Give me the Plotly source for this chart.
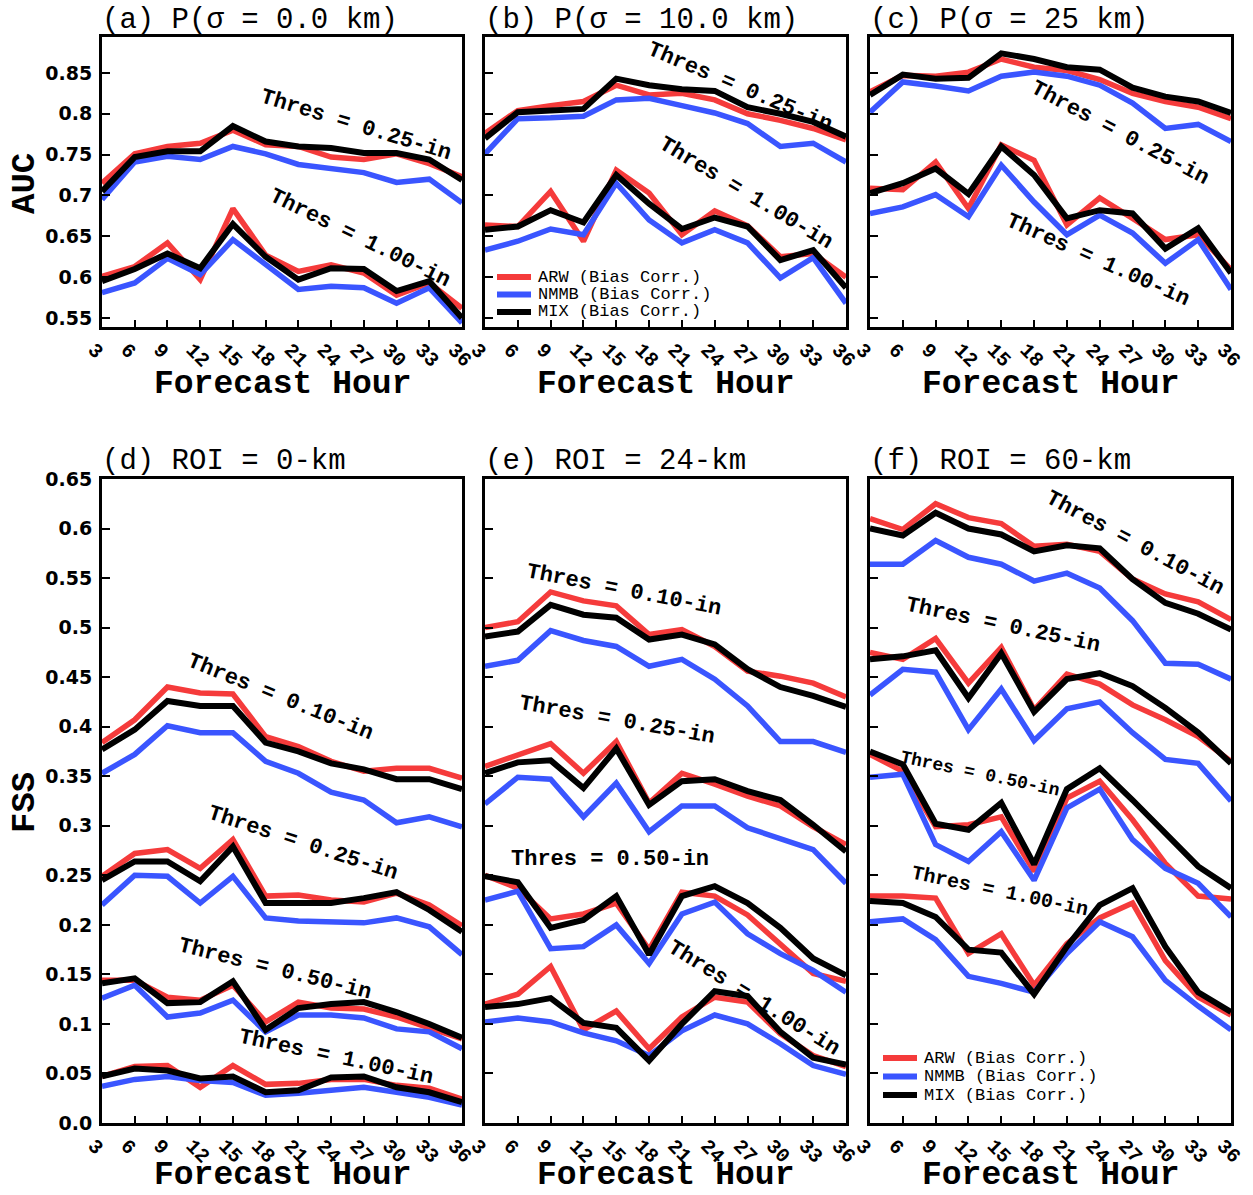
import plotly.graph_objects as go

W, H = 1253, 1195

hours = [3, 6, 9, 12, 15, 18, 21, 24, 27, 30, 33, 36]
hour_labels = [str(h) for h in hours]

auc_ticks = [0.55, 0.60, 0.65, 0.70, 0.75, 0.80, 0.85]
auc_ticklabels = ["0.55", "0.6", "0.65", "0.7", "0.75", "0.8", "0.85"]
fss_ticks = [0.0, 0.05, 0.1, 0.15, 0.2, 0.25, 0.3, 0.35, 0.4, 0.45, 0.5, 0.55, 0.6, 0.65]
fss_ticklabels = ["0.0", "0.05", "0.1", "0.15", "0.2", "0.25", "0.3", "0.35", "0.4", "0.45", "0.5", "0.55", "0.6", "0.65"]

# ---- (a) AUC, sigma = 0 km ----
a_t025_arw = [0.715, 0.751, 0.760, 0.764, 0.780, 0.762, 0.760, 0.747, 0.744, 0.751, 0.739, 0.723]
a_t025_nmmb = [0.695, 0.741, 0.748, 0.744, 0.760, 0.751, 0.738, 0.733, 0.728, 0.716, 0.720, 0.691]
a_t025_mix = [0.705, 0.747, 0.754, 0.754, 0.785, 0.766, 0.760, 0.758, 0.752, 0.752, 0.744, 0.719]
a_t100_arw = [0.601, 0.613, 0.642, 0.597, 0.684, 0.627, 0.607, 0.615, 0.605, 0.578, 0.593, 0.562]
a_t100_nmmb = [0.581, 0.593, 0.623, 0.603, 0.646, 0.615, 0.585, 0.589, 0.587, 0.568, 0.587, 0.544]
a_t100_mix = [0.595, 0.610, 0.629, 0.611, 0.665, 0.625, 0.597, 0.611, 0.610, 0.583, 0.595, 0.550]

# ---- (b) AUC, sigma = 10 km ----
b_t025_arw = [0.776, 0.804, 0.810, 0.815, 0.835, 0.823, 0.825, 0.817, 0.800, 0.792, 0.782, 0.768]
b_t025_nmmb = [0.751, 0.794, 0.795, 0.797, 0.817, 0.819, 0.810, 0.801, 0.788, 0.760, 0.764, 0.741]
b_t025_mix = [0.770, 0.802, 0.804, 0.806, 0.843, 0.835, 0.830, 0.828, 0.808, 0.800, 0.790, 0.772]
b_t100_arw = [0.664, 0.662, 0.705, 0.644, 0.731, 0.703, 0.652, 0.681, 0.663, 0.625, 0.629, 0.600]
b_t100_nmmb = [0.633, 0.644, 0.659, 0.652, 0.715, 0.670, 0.642, 0.658, 0.642, 0.599, 0.624, 0.568]
b_t100_mix = [0.658, 0.662, 0.682, 0.667, 0.725, 0.690, 0.659, 0.673, 0.662, 0.621, 0.633, 0.587]

# ---- (c) AUC, sigma = 25 km ----
c_t025_arw = [0.827, 0.847, 0.846, 0.851, 0.867, 0.857, 0.853, 0.842, 0.825, 0.815, 0.808, 0.794]
c_t025_nmmb = [0.802, 0.839, 0.834, 0.828, 0.846, 0.851, 0.846, 0.835, 0.813, 0.782, 0.787, 0.766]
c_t025_mix = [0.823, 0.848, 0.843, 0.844, 0.874, 0.867, 0.857, 0.854, 0.832, 0.821, 0.815, 0.801]
c_t100_arw = [0.709, 0.707, 0.741, 0.684, 0.762, 0.743, 0.664, 0.697, 0.672, 0.646, 0.652, 0.609]
c_t100_nmmb = [0.678, 0.686, 0.701, 0.674, 0.737, 0.692, 0.652, 0.676, 0.654, 0.617, 0.646, 0.585]
c_t100_mix = [0.703, 0.715, 0.733, 0.702, 0.760, 0.725, 0.672, 0.682, 0.678, 0.635, 0.660, 0.605]

# ---- (d) FSS, ROI = 0 km ----
d_t010_arw = [0.384, 0.407, 0.440, 0.434, 0.433, 0.390, 0.380, 0.365, 0.355, 0.358, 0.358, 0.348]
d_t010_nmmb = [0.353, 0.372, 0.401, 0.394, 0.394, 0.365, 0.353, 0.334, 0.326, 0.303, 0.309, 0.299]
d_t010_mix = [0.377, 0.397, 0.426, 0.421, 0.421, 0.384, 0.375, 0.363, 0.357, 0.347, 0.347, 0.337]
d_t025_arw = [0.249, 0.272, 0.276, 0.257, 0.286, 0.229, 0.230, 0.225, 0.223, 0.232, 0.220, 0.199]
d_t025_nmmb = [0.220, 0.250, 0.249, 0.222, 0.249, 0.207, 0.204, 0.203, 0.202, 0.207, 0.198, 0.170]
d_t025_mix = [0.245, 0.264, 0.264, 0.244, 0.279, 0.222, 0.222, 0.222, 0.227, 0.233, 0.215, 0.193]
d_t050_arw = [0.144, 0.144, 0.127, 0.124, 0.139, 0.102, 0.122, 0.116, 0.115, 0.107, 0.096, 0.085]
d_t050_nmmb = [0.126, 0.139, 0.107, 0.111, 0.124, 0.092, 0.109, 0.109, 0.106, 0.095, 0.092, 0.075]
d_t050_mix = [0.141, 0.146, 0.121, 0.122, 0.143, 0.094, 0.116, 0.120, 0.122, 0.112, 0.100, 0.086]
d_t100_arw = [0.047, 0.057, 0.058, 0.036, 0.058, 0.039, 0.040, 0.044, 0.044, 0.038, 0.035, 0.024]
d_t100_nmmb = [0.037, 0.044, 0.047, 0.043, 0.041, 0.028, 0.030, 0.033, 0.036, 0.031, 0.026, 0.018]
d_t100_mix = [0.047, 0.055, 0.053, 0.045, 0.047, 0.031, 0.033, 0.046, 0.047, 0.036, 0.031, 0.021]

# ---- (e) FSS, ROI = 24 km ----
e_t010_arw = [0.500, 0.506, 0.536, 0.527, 0.522, 0.493, 0.498, 0.481, 0.456, 0.451, 0.444, 0.430]
e_t010_nmmb = [0.461, 0.467, 0.497, 0.487, 0.481, 0.461, 0.468, 0.448, 0.421, 0.385, 0.385, 0.374]
e_t010_mix = [0.491, 0.496, 0.523, 0.513, 0.510, 0.488, 0.493, 0.483, 0.458, 0.440, 0.431, 0.420]
e_t025_arw = [0.360, 0.371, 0.383, 0.353, 0.385, 0.323, 0.353, 0.342, 0.330, 0.320, 0.299, 0.281]
e_t025_nmmb = [0.322, 0.349, 0.347, 0.309, 0.343, 0.294, 0.320, 0.320, 0.298, 0.287, 0.276, 0.242]
e_t025_mix = [0.353, 0.364, 0.366, 0.338, 0.378, 0.321, 0.345, 0.347, 0.335, 0.326, 0.301, 0.274]
e_t050_arw = [0.250, 0.237, 0.206, 0.211, 0.222, 0.175, 0.233, 0.229, 0.210, 0.181, 0.151, 0.143]
e_t050_nmmb = [0.225, 0.234, 0.176, 0.178, 0.200, 0.161, 0.211, 0.223, 0.191, 0.171, 0.154, 0.132]
e_t050_mix = [0.249, 0.243, 0.197, 0.205, 0.229, 0.170, 0.229, 0.239, 0.222, 0.197, 0.166, 0.149]
e_t100_arw = [0.120, 0.130, 0.158, 0.094, 0.113, 0.075, 0.107, 0.127, 0.122, 0.090, 0.068, 0.057]
e_t100_nmmb = [0.102, 0.106, 0.102, 0.091, 0.083, 0.068, 0.093, 0.109, 0.100, 0.080, 0.058, 0.049]
e_t100_mix = [0.117, 0.120, 0.126, 0.101, 0.096, 0.063, 0.100, 0.133, 0.128, 0.092, 0.066, 0.059]

# ---- (f) FSS, ROI = 60 km ----
f_t010_arw = [0.610, 0.599, 0.625, 0.611, 0.605, 0.582, 0.584, 0.577, 0.549, 0.534, 0.526, 0.508]
f_t010_nmmb = [0.564, 0.564, 0.588, 0.571, 0.564, 0.547, 0.555, 0.540, 0.507, 0.464, 0.463, 0.448]
f_t010_mix = [0.600, 0.593, 0.616, 0.600, 0.594, 0.577, 0.583, 0.580, 0.549, 0.525, 0.514, 0.498]
f_t025_arw = [0.475, 0.468, 0.489, 0.444, 0.480, 0.417, 0.453, 0.443, 0.422, 0.407, 0.390, 0.365]
f_t025_nmmb = [0.432, 0.458, 0.455, 0.397, 0.438, 0.386, 0.418, 0.425, 0.394, 0.367, 0.363, 0.325]
f_t025_mix = [0.468, 0.471, 0.477, 0.429, 0.474, 0.415, 0.448, 0.454, 0.441, 0.419, 0.394, 0.363]
f_t050_arw = [0.372, 0.355, 0.299, 0.301, 0.309, 0.254, 0.328, 0.345, 0.306, 0.262, 0.229, 0.226]
f_t050_nmmb = [0.349, 0.352, 0.281, 0.264, 0.294, 0.245, 0.318, 0.337, 0.286, 0.257, 0.242, 0.208]
f_t050_mix = [0.375, 0.362, 0.302, 0.296, 0.323, 0.261, 0.337, 0.358, 0.326, 0.293, 0.259, 0.237]
f_t100_arw = [0.229, 0.229, 0.227, 0.171, 0.191, 0.139, 0.181, 0.207, 0.222, 0.164, 0.127, 0.109]
f_t100_nmmb = [0.203, 0.206, 0.185, 0.148, 0.141, 0.132, 0.171, 0.203, 0.188, 0.144, 0.118, 0.094]
f_t100_mix = [0.224, 0.222, 0.208, 0.175, 0.172, 0.130, 0.178, 0.220, 0.237, 0.178, 0.132, 0.112]

model_names = ["ARW (Bias Corr.)", "NMMB (Bias Corr.)", "MIX (Bias Corr.)"]
model_colors = ["#f53b3b", "#3a55ff", "#000000"]
model_widths = [5.5, 5.5, 6]

panel_titles = ["(a) P(\u03c3 = 0.0 km)", "(b) P(\u03c3 = 10.0 km)", "(c) P(\u03c3 = 25 km)",
                "(d) ROI = 0-km", "(e) ROI = 24-km", "(f) ROI = 60-km"]

panel_series = [
    [(a_t025_arw, a_t025_nmmb, a_t025_mix), (a_t100_arw, a_t100_nmmb, a_t100_mix)],
    [(b_t025_arw, b_t025_nmmb, b_t025_mix), (b_t100_arw, b_t100_nmmb, b_t100_mix)],
    [(c_t025_arw, c_t025_nmmb, c_t025_mix), (c_t100_arw, c_t100_nmmb, c_t100_mix)],
    [(d_t010_arw, d_t010_nmmb, d_t010_mix), (d_t025_arw, d_t025_nmmb, d_t025_mix),
     (d_t050_arw, d_t050_nmmb, d_t050_mix), (d_t100_arw, d_t100_nmmb, d_t100_mix)],
    [(e_t010_arw, e_t010_nmmb, e_t010_mix), (e_t025_arw, e_t025_nmmb, e_t025_mix),
     (e_t050_arw, e_t050_nmmb, e_t050_mix), (e_t100_arw, e_t100_nmmb, e_t100_mix)],
    [(f_t010_arw, f_t010_nmmb, f_t010_mix), (f_t025_arw, f_t025_nmmb, f_t025_mix),
     (f_t050_arw, f_t050_nmmb, f_t050_mix), (f_t100_arw, f_t100_nmmb, f_t100_mix)],
]

# threshold labels: (text, center px x, center px y, angle, size)
thres_labels = [
    ("Thres = 0.25-in", 356, 125, 17, 22),
    ("Thres = 1.00-in", 360, 238, 26, 22),
    ("Thres = 0.25-in", 740, 87, 23, 22),
    ("Thres = 1.00-in", 746, 193, 31, 22),
    ("Thres = 0.25-in", 1120, 133, 28, 22),
    ("Thres = 1.00-in", 1098, 260, 24, 22),
    ("Thres = 0.10-in", 280, 698, 22, 22),
    ("Thres = 0.25-in", 303, 843, 18, 22),
    ("Thres = 0.50-in", 275, 969, 14, 22),
    ("Thres = 1.00-in", 336, 1057, 12, 22),
    ("Thres = 0.10-in", 624, 590, 11, 22),
    ("Thres = 0.25-in", 617, 720, 10, 22),
    ("Thres = 0.50-in", 610, 859, 0, 22),
    ("Thres = 1.00-in", 754, 998, 32, 22),
    ("Thres = 0.10-in", 1135, 543, 28, 22),
    ("Thres = 0.25-in", 1003, 625, 12, 22),
    ("Thres = 0.50-in", 980, 774, 12, 18),
    ("Thres = 1.00-in", 1000, 891, 12, 20),
]

# panel pixel boxes (left, right, top, bottom)
col_x = [(102, 462), (485, 846), (870, 1231)]
row_y = [(37, 327), (479, 1123)]
title_y = [21, 462]
xtitle_y = [384, 1175]

# legend boxes: (line x0, line x1, text x, first row y, row step)
legend_boxes = [(497, 531, 536, 277, 17.5), (883, 917, 922, 1058, 18.5)]

MONO = "Liberation Mono"
fig = go.Figure()

for p, series_sets in enumerate(panel_series):
    ax = "" if p == 0 else str(p + 1)
    for s_i, trio in enumerate(series_sets):
        for m in range(3):
            fig.add_trace(go.Scatter(
                x=hours, y=trio[m], mode="lines",
                line=dict(color=model_colors[m], width=model_widths[m]),
                name=model_names[m], showlegend=False,
                xaxis="x" + ax, yaxis="y" + ax, hoverinfo="skip"))

layout = dict(width=W, height=H, margin=dict(l=0, r=0, t=0, b=0, pad=0, autoexpand=False),
              paper_bgcolor="white", plot_bgcolor="white",
              annotations=[], shapes=[], showlegend=False)

for p in range(6):
    r, c = divmod(p, 3)
    x0, x1 = col_x[c]
    y0, y1 = row_y[r]
    ax = "" if p == 0 else str(p + 1)
    layout["xaxis" + ax] = dict(
        domain=[x0 / W, x1 / W], anchor="y" + ax, range=[3, 36],
        tickvals=hours, ticktext=hour_labels, tickangle=45, automargin=False,
        ticks="inside", ticklen=7, tickwidth=2, tickcolor="black",
        ticklabelshift=-8, ticklabelstandoff=0,
        showline=True, linecolor="black", linewidth=3, mirror=True,
        showgrid=False, zeroline=False,
        tickfont=dict(family=MONO, size=20, color="black", weight="bold"))
    if r == 0:
        yr, tv, tt = [0.539, 0.894], auc_ticks, auc_ticklabels
    else:
        yr, tv, tt = [0.0, 0.65], fss_ticks, fss_ticklabels
    layout["yaxis" + ax] = dict(
        domain=[1 - y1 / H, 1 - y0 / H], anchor="x" + ax, range=yr,
        tickvals=tv, ticktext=tt, showticklabels=(c == 0), automargin=False,
        ticks="inside", ticklen=8, tickwidth=2, tickcolor="black",
        ticklabelstandoff=3,
        showline=True, linecolor="black", linewidth=3, mirror=True,
        showgrid=False, zeroline=False,
        tickfont=dict(family="DejaVu Sans", size=19, color="black", weight="bold"))
    # panel title
    layout["annotations"].append(dict(
        text=panel_titles[p], xref="paper", yref="paper",
        x=(x0 - 2) / W, y=1 - title_y[r] / H, xanchor="left", yanchor="middle",
        showarrow=False, font=dict(family=MONO, size=29, color="black")))
    # x axis title
    layout["annotations"].append(dict(
        text="Forecast Hour", xref="paper", yref="paper",
        x=(x0 + x1) / 2 / W, y=1 - xtitle_y[r] / H, xanchor="center", yanchor="middle",
        showarrow=False, font=dict(family=MONO, size=33, color="black", weight="bold")))

for txt, py in (("AUC", 184), ("FSS", 803)):
    layout["annotations"].append(dict(
        text=txt, xref="paper", yref="paper", x=25 / W, y=1 - py / H,
        xanchor="center", yanchor="middle", textangle=-90, showarrow=False,
        font=dict(family=MONO, size=34, color="black", weight="bold")))

for txt, px, py, ang, fs in thres_labels:
    layout["annotations"].append(dict(
        text=txt, xref="paper", yref="paper", x=px / W, y=1 - py / H,
        xanchor="center", yanchor="middle", textangle=ang, showarrow=False,
        font=dict(family=MONO, size=fs, color="black", weight="bold")))

# legends drawn as line samples + labels inside panels (b) and (f)
for lx0, lx1, tx, ly, step in legend_boxes:
    for m in range(3):
        yy = 1 - (ly + m * step) / H
        layout["shapes"].append(dict(
            type="line", xref="paper", yref="paper", x0=lx0 / W, x1=lx1 / W, y0=yy, y1=yy,
            line=dict(color=model_colors[m], width=6)))
        layout["annotations"].append(dict(
            text=model_names[m], xref="paper", yref="paper", x=tx / W, y=yy,
            xanchor="left", yanchor="middle", showarrow=False,
            font=dict(family=MONO, size=17, color="black")))

fig.update_layout(**layout)
fig.write_html("out.html")
